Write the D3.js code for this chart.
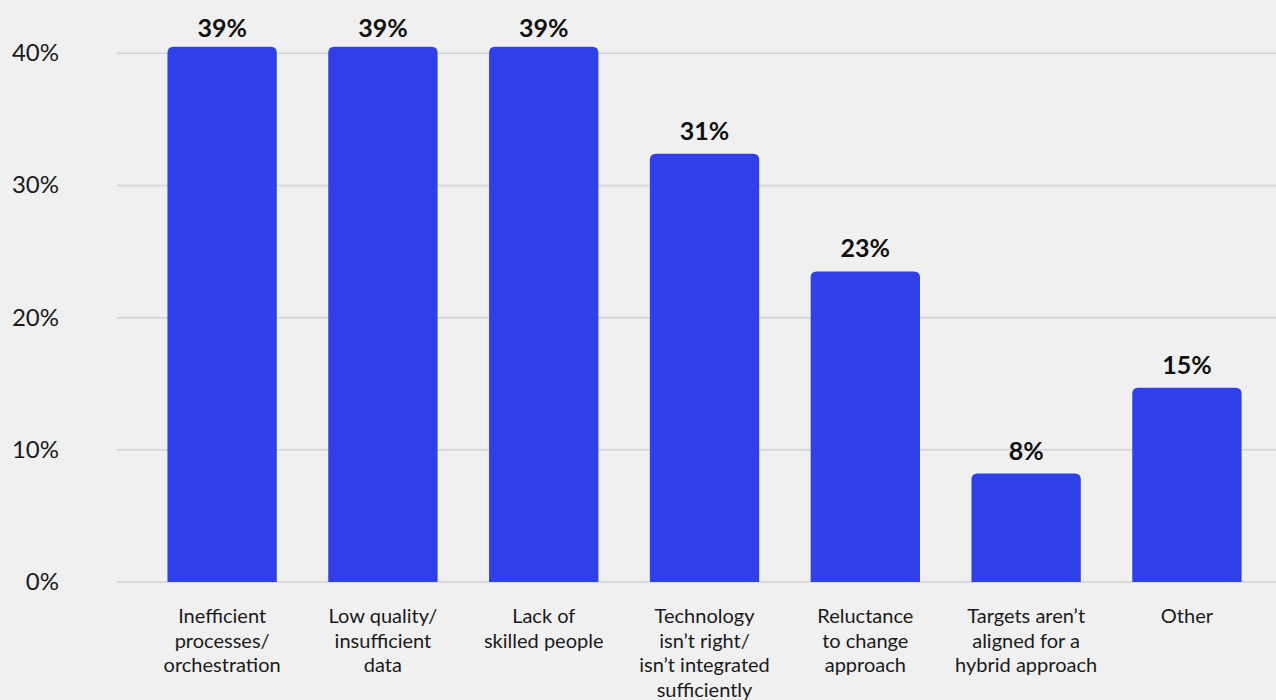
<!DOCTYPE html>
<html>
<head>
<meta charset="utf-8">
<script src="https://cdn.jsdelivr.net/npm/d3@7"></script>
<style>
  html, body { margin: 0; padding: 0; background: #f0f0f0; }
  svg { display: block; font-family: "Source Sans Pro", Lato, "Noto Sans", sans-serif; }
</style>
</head>
<body>
<div id="chart"></div>
<script>
// categories (one array per label line)
var categories = [
    ["Inefficient", "processes/", "orchestration"],
    ["Low quality/", "insufficient", "data"],
    ["Lack of", "skilled people"],
    ["Technology", "isn\u2019t right/", "isn\u2019t integrated", "sufficiently"],
    ["Reluctance", "to change", "approach"],
    ["Targets aren\u2019t", "aligned for a", "hybrid approach"],
    ["Other"]
];
// bar heights as drawn in the picture (percent)
var values = [40.5, 40.5, 40.5, 32.4, 23.5, 8.2, 14.7];
// printed value labels
var valueLabels = ["39%", "39%", "39%", "31%", "23%", "8%", "15%"];
var yTicks = [0, 10, 20, 30, 40];

var width = 1276, height = 700;
var x0 = 116, bottom = 582, top40 = 53.3;

var svg = d3.select("#chart").append("svg")
    .attr("width", width)
    .attr("height", height);

var y = d3.scaleLinear()
    .domain([0, 40])
    .range([bottom, top40]);

var pad = 0.32;
var step = 160.8;
var x = d3.scaleBand()
    .domain(d3.range(categories.length))
    .range([x0, x0 + step * (categories.length - pad + 2 * pad)])
    .paddingInner(pad)
    .paddingOuter(pad);

// gridlines
svg.append("g")
    .selectAll("line")
    .data(yTicks)
    .join("line")
    .attr("x1", 117)
    .attr("x2", width)
    .attr("y1", function(d){ return y(d); })
    .attr("y2", function(d){ return y(d); })
    .attr("stroke", "#d3d3d3")
    .attr("stroke-width", 1.5);

// y tick labels
svg.append("g")
    .selectAll("text")
    .data(yTicks)
    .join("text")
    .attr("x", 59)
    .attr("y", function(d){ return y(d) + 8; })
    .attr("text-anchor", "end")
    .attr("font-size", 24)
    .attr("fill", "#1a1a1a")
    .text(function(d){ return d + "%"; });

// bars with rounded top corners
var r = 6;
svg.append("g")
    .selectAll("path")
    .data(values)
    .join("path")
    .attr("fill", "#3040e8")
    .attr("d", function(d, i){
        var xl = x(i), xr = x(i) + x.bandwidth(), yt = y(d), yb = y(0);
        return "M" + xl + "," + yb +
               "V" + (yt + r) +
               "Q" + xl + "," + yt + " " + (xl + r) + "," + yt +
               "H" + (xr - r) +
               "Q" + xr + "," + yt + " " + xr + "," + (yt + r) +
               "V" + yb + "Z";
    });

// value labels
svg.append("g")
    .selectAll("text")
    .data(values)
    .join("text")
    .attr("x", function(d, i){ return x(i) + x.bandwidth() / 2; })
    .attr("y", function(d){ return Math.max(y(d) - 14, 37); })
    .attr("text-anchor", "middle")
    .attr("font-size", 25)
    .attr("font-weight", "bold")
    .attr("fill", "#111")
    .text(function(d, i){ return valueLabels[i]; });

// category labels
var cat = svg.append("g")
    .selectAll("text")
    .data(categories)
    .join("text")
    .attr("text-anchor", "middle")
    .attr("font-size", 20)
    .attr("fill", "#1a1a1a")
    .attr("x", function(d, i){ return x(i) + x.bandwidth() / 2; })
    .attr("y", 623);

cat.selectAll("tspan")
    .data(function(d){ return d; })
    .join("tspan")
    .attr("x", function(){ return d3.select(this.parentNode).attr("x"); })
    .attr("dy", function(d, j){ return j === 0 ? 0 : 24.5; })
    .text(function(d){ return d; });
</script>
</body>
</html>
